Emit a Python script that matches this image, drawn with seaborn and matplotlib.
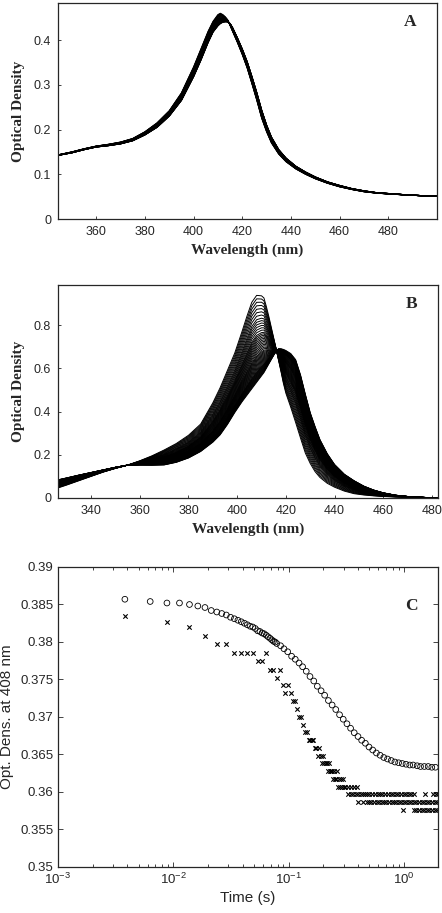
import numpy as np
import pandas as pd
import matplotlib
matplotlib.use("Agg")
import matplotlib.pyplot as plt
import seaborn as sns
from matplotlib.ticker import FuncFormatter, LogLocator, NullFormatter

# ---- panel A: spectra, first and last scan, and the fraction converted in each scan
wl_a = [344, 350, 355, 360, 365, 370, 375, 380, 385, 390, 395, 400, 403, 406, 408, 410, 411, 412,
        413, 414, 415, 416, 418, 420, 422, 424, 426, 428, 430, 432, 435, 438, 442, 446, 450, 455,
        460, 465, 470, 475, 480, 490, 500]
od_a_first = [0.143, 0.150, 0.157, 0.163, 0.167, 0.172, 0.180, 0.195, 0.215, 0.242, 0.282, 0.340,
              0.380, 0.420, 0.442, 0.457, 0.460, 0.457, 0.452, 0.445, 0.433, 0.420, 0.395, 0.368,
              0.338, 0.302, 0.265, 0.225, 0.195, 0.170, 0.145, 0.128, 0.112, 0.100, 0.090, 0.080,
              0.072, 0.066, 0.061, 0.058, 0.056, 0.053, 0.051]
od_a_last = [0.142, 0.148, 0.155, 0.161, 0.164, 0.168, 0.175, 0.188, 0.205, 0.230, 0.265, 0.318,
             0.355, 0.395, 0.418, 0.432, 0.437, 0.440, 0.441, 0.441, 0.437, 0.428, 0.405, 0.380,
             0.352, 0.318, 0.282, 0.243, 0.210, 0.183, 0.155, 0.136, 0.118, 0.105, 0.094, 0.083,
             0.075, 0.068, 0.063, 0.059, 0.057, 0.053, 0.051]
progress_a = [0.0, 0.05, 0.10, 0.15, 0.20, 0.26, 0.32, 0.38, 0.44, 0.50, 0.55, 0.60, 0.65, 0.70,
              0.74, 0.78, 0.82, 0.86, 0.89, 0.92, 0.95, 0.97, 0.99, 1.0]

# ---- panel B
wl_b = [326, 330, 335, 340, 345, 350, 355, 360, 365, 370, 375, 380, 385, 390, 393, 396, 399, 402,
        404, 406, 408, 410, 411, 412, 413, 414, 415, 416, 417, 418, 419, 420, 422, 424, 426, 428,
        430, 432, 434, 437, 440, 444, 448, 452, 456, 460, 465, 470, 476, 483]
od_b_first = [0.045, 0.060, 0.080, 0.100, 0.120, 0.137, 0.152, 0.172, 0.195, 0.222, 0.252, 0.290,
              0.342, 0.440, 0.510, 0.590, 0.670, 0.770, 0.840, 0.905, 0.937, 0.935, 0.925, 0.885,
              0.840, 0.790, 0.740, 0.690, 0.637, 0.585, 0.530, 0.485, 0.420, 0.350, 0.278, 0.208,
              0.160, 0.122, 0.095, 0.068, 0.050, 0.032, 0.020, 0.014, 0.010, 0.007, 0.005, 0.004,
              0.002, 0.000]
od_b_last = [0.083, 0.093, 0.106, 0.118, 0.130, 0.142, 0.152, 0.153, 0.152, 0.153, 0.165, 0.185,
             0.215, 0.258, 0.292, 0.340, 0.395, 0.445, 0.475, 0.505, 0.535, 0.565, 0.580, 0.600,
             0.620, 0.640, 0.660, 0.678, 0.690, 0.690, 0.687, 0.682, 0.668, 0.640, 0.570, 0.480,
             0.395, 0.330, 0.270, 0.205, 0.155, 0.110, 0.080, 0.055, 0.037, 0.024, 0.013, 0.007,
             0.003, 0.000]
progress_b = [0.0, 0.04, 0.08, 0.12, 0.16, 0.20, 0.24, 0.28, 0.31, 0.34, 0.37, 0.40, 0.43, 0.46,
              0.48, 0.50, 0.52, 0.54, 0.56, 0.58, 0.60, 0.62, 0.64, 0.66, 0.68, 0.70, 0.715,
              0.73, 0.745, 0.76, 0.775, 0.79, 0.805, 0.82, 0.835, 0.85, 0.865, 0.88, 0.89, 0.90,
              0.91, 0.92, 0.93, 0.94, 0.95, 0.96, 0.97, 0.98, 0.99, 1.0]

# ---- panel C: OD at 408 nm vs time, circles
circ_t = [0.0038, 0.0063, 0.0088, 0.0113, 0.0138, 0.0163, 0.0188, 0.0213, 0.0238, 0.0263, 0.0288,
          0.0313, 0.0338, 0.0363, 0.0388, 0.0413, 0.0438, 0.0463, 0.0488, 0.0513, 0.0538, 0.0563,
          0.0588, 0.0613, 0.0638, 0.0663, 0.0688, 0.0713, 0.0738, 0.0763, 0.0788,
          0.085, 0.091, 0.098, 0.106, 0.114, 0.123, 0.132, 0.142, 0.153, 0.165, 0.177, 0.191,
          0.205, 0.221, 0.238, 0.256, 0.276, 0.297, 0.320, 0.344, 0.370, 0.399, 0.429, 0.462,
          0.497, 0.535, 0.576, 0.620, 0.668, 0.719, 0.774, 0.833, 0.897, 0.965, 1.04, 1.12,
          1.20, 1.30, 1.39, 1.50, 1.62, 1.74, 1.87]
circ_od = [0.3857, 0.3854, 0.3852, 0.3852, 0.3850, 0.3848, 0.3846, 0.3842, 0.3840, 0.3838, 0.3836,
           0.3833, 0.3831, 0.3829, 0.3827, 0.3825, 0.3823, 0.3821, 0.3820, 0.3818, 0.3815, 0.3814,
           0.3812, 0.3811, 0.3809, 0.3807, 0.3805, 0.3803, 0.3801, 0.3800, 0.3798,
           0.3795, 0.3791, 0.3787, 0.3781, 0.3777, 0.3772, 0.3767, 0.3761, 0.3754, 0.3748, 0.3741,
           0.3735, 0.3729, 0.3722, 0.3716, 0.3710, 0.3703, 0.3697, 0.3691, 0.3685, 0.3679, 0.3674,
           0.3669, 0.3665, 0.3660, 0.3656, 0.3652, 0.3649, 0.3646, 0.3644, 0.3642, 0.3640, 0.3639,
           0.3638, 0.3637, 0.3636, 0.3636, 0.3635, 0.3634, 0.3634, 0.3634, 0.3633, 0.3633]

# crosses, early part (one per 5 ms sample)
cross_t = [0.0038, 0.0088, 0.0138, 0.0188, 0.0238, 0.0288, 0.0338, 0.0388, 0.0438, 0.0488,
           0.0538, 0.0588, 0.0638, 0.0688, 0.0738, 0.0788, 0.0838, 0.0888, 0.0938, 0.0988,
           0.1038, 0.1088, 0.1138, 0.1188, 0.1238, 0.1288, 0.1338, 0.1388, 0.1438, 0.1488,
           0.1538, 0.1588, 0.1638, 0.1688, 0.1738, 0.1788, 0.1838, 0.1888, 0.1938, 0.1988,
           0.2038, 0.2088, 0.2138, 0.2188, 0.2238, 0.2288, 0.2338, 0.2388, 0.2438, 0.2488,
           0.2538, 0.2588, 0.2638, 0.2688, 0.2738, 0.2788, 0.2838, 0.2888, 0.2938, 0.2988]
cross_od = [0.3835, 0.3826, 0.3820, 0.3808, 0.3797, 0.3797, 0.3785, 0.3785, 0.3785, 0.3785,
            0.3774, 0.3774, 0.3785, 0.3763, 0.3763, 0.3752, 0.3763, 0.3743, 0.3732, 0.3743,
            0.3732, 0.3722, 0.3722, 0.3711, 0.3700, 0.3700, 0.3689, 0.3680, 0.3680, 0.3669,
            0.3669, 0.3669, 0.3669, 0.3659, 0.3659, 0.3648, 0.3659, 0.3648, 0.3638, 0.3648,
            0.3638, 0.3638, 0.3638, 0.3628, 0.3638, 0.3628, 0.3628, 0.3628, 0.3617, 0.3628,
            0.3617, 0.3617, 0.3628, 0.3607, 0.3617, 0.3607, 0.3617, 0.3607, 0.3617, 0.3607]
# crosses, late part: times seen at each digitiser level
late_t_3607 = [0.31, 0.33, 0.35, 0.37, 0.39]
late_t_3597 = [0.33, 0.345, 0.36, 0.38, 0.40, 0.42, 0.44, 0.46, 0.48, 0.50, 0.53, 0.56, 0.59,
               0.62, 0.65, 0.68, 0.73, 0.77, 0.81, 0.85, 0.89, 0.94, 0.99, 1.04, 1.10, 1.16,
               1.22, 1.52, 1.80, 1.90, 1.98]
late_t_3586 = [0.40, 0.44, 0.48, 0.50, 0.52, 0.55, 0.58, 0.61, 0.64, 0.67, 0.70, 0.74, 0.78,
               0.82, 0.86, 0.90, 0.95, 1.00, 1.05, 1.10, 1.16, 1.22, 1.28, 1.35, 1.42, 1.50,
               1.58, 1.66, 1.75, 1.84, 1.94]
late_t_3576 = [0.98, 1.22, 1.28, 1.35, 1.42, 1.50, 1.58, 1.66, 1.75, 1.84, 1.94]


def spectra_frame(wl, first, last, progress):
    first = np.array(first)
    last = np.array(last)
    parts = []
    for i, f in enumerate(progress):
        parts.append(pd.DataFrame({"wl": wl, "od": (1 - f) * first + f * last, "scan": i}))
    return pd.concat(parts, ignore_index=True)


df_a = spectra_frame(wl_a, od_a_first, od_a_last, progress_a)
df_b = spectra_frame(wl_b, od_b_first, od_b_last, progress_b)
df_circ = pd.DataFrame({"t": circ_t, "od": circ_od})
late = pd.DataFrame({
    "t": late_t_3607 + late_t_3597 + late_t_3586 + late_t_3576,
    "od": [0.3607] * len(late_t_3607) + [0.3597] * len(late_t_3597)
          + [0.3586] * len(late_t_3586) + [0.3576] * len(late_t_3576)})
df_cross = pd.concat([pd.DataFrame({"t": cross_t, "od": cross_od}), late], ignore_index=True)

sns.set_style("ticks")
plt.rcParams["font.family"] = ["Liberation Sans", "DejaVu Sans"]
plt.rcParams["mathtext.fontset"] = "custom"
plt.rcParams["mathtext.rm"] = "Liberation Sans"
plt.rcParams["mathtext.it"] = "Liberation Sans"
plt.rcParams["mathtext.default"] = "regular"

fig = plt.figure(figsize=(4.42, 9.13), dpi=100)
W, H = 442.0, 913.0
ax_a = fig.add_axes([58 / W, 1 - 219 / H, 379 / W, 216 / H])
ax_b = fig.add_axes([58 / W, 1 - 498 / H, 380 / W, 213 / H])
ax_c = fig.add_axes([58 / W, 1 - 867 / H, 380 / W, 300 / H])

serif_bold = dict(family=["Liberation Serif", "DejaVu Serif"], weight="bold", size=11)
fmt_g = FuncFormatter(lambda v, p: "%g" % round(v, 4))

for ax, df, lw, xlim, ylim, yt, xt, letter in [
        (ax_a, df_a, 0.8, (344.3, 500), (0, 0.483), np.arange(0, 0.41, 0.1), np.arange(360, 481, 20), "A"),
        (ax_b, df_b, 0.7, (326.4, 482.5), (0, 0.985), np.arange(0, 0.81, 0.2), np.arange(340, 481, 20), "B")]:
    sns.lineplot(data=df, x="wl", y="od", units="scan", estimator=None, color="black",
                 lw=lw, ax=ax, legend=False)
    ax.set_xlim(*xlim)
    ax.set_ylim(*ylim)
    ax.set_yticks(yt)
    ax.set_xticks(xt)
    ax.yaxis.set_major_formatter(fmt_g)
    ax.tick_params(direction="in", length=2, width=0.6, labelsize=9, pad=5)
    ax.set_xlabel("Wavelength (nm)", fontdict=serif_bold, labelpad=4)
    ax.set_ylabel("Optical Density", fontdict=serif_bold, labelpad=6)
    ax.text(0.93, 0.91, letter, transform=ax.transAxes, ha="center", va="center",
            family=["Liberation Serif", "DejaVu Serif"], weight="bold", size=12.5)
    for s in ax.spines.values():
        s.set_linewidth(0.9)

# panel C
sns.scatterplot(data=df_circ, x="t", y="od", marker="o", s=17, facecolor="none",
                edgecolor="black", linewidth=0.6, ax=ax_c, legend=False)
sns.scatterplot(data=df_cross, x="t", y="od", marker="x", s=10, color="black",
                linewidth=0.8, ax=ax_c, legend=False)
ax_c.set_xscale("log")
ax_c.set_xlim(1e-3, 1.97)
ax_c.set_ylim(0.35, 0.39)
ax_c.set_yticks(np.arange(0.35, 0.3901, 0.005))
ax_c.yaxis.set_major_formatter(fmt_g)
ax_c.xaxis.set_major_locator(LogLocator(base=10, numticks=10))
ax_c.xaxis.set_minor_locator(LogLocator(base=10, subs=np.arange(2, 10), numticks=10))
ax_c.xaxis.set_minor_formatter(NullFormatter())
ax_c.tick_params(which="both", direction="in", top=True, right=True, width=0.6, labelsize=9.5)
ax_c.tick_params(which="major", length=3.5)
ax_c.tick_params(which="minor", length=2)
ax_c.set_xlabel("Time (s)", fontsize=11, labelpad=3)
ax_c.set_ylabel("Opt. Dens. at 408 nm", fontsize=11, labelpad=4)
ax_c.text(0.93, 0.87, "C", transform=ax_c.transAxes, ha="center", va="center",
          family=["Liberation Serif", "DejaVu Serif"], weight="bold", size=12.5)
for s in ax_c.spines.values():
    s.set_linewidth(0.9)

fig.savefig("out.png", dpi=100)
